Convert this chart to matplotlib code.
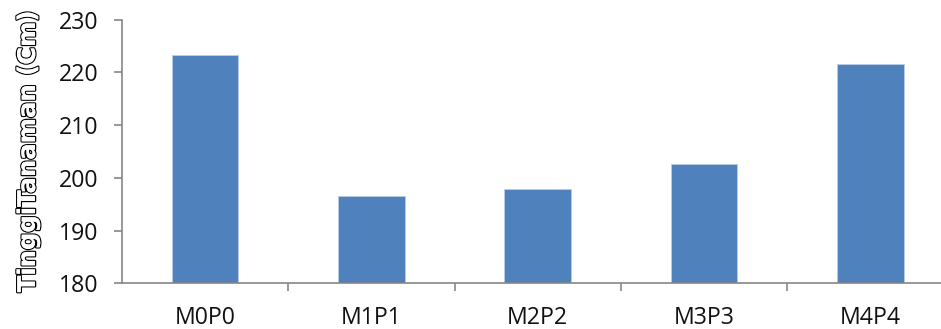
import matplotlib
matplotlib.use("Agg")
import matplotlib.pyplot as plt
import matplotlib.patheffects as pe
import numpy as np

categories = ["M0P0", "M1P1", "M2P2", "M3P3", "M4P4"]
values = [223.3, 196.6, 197.8, 202.6, 221.6]
yticks = [180, 190, 200, 210, 220, 230]

fig = plt.figure(figsize=(9.41, 3.29), dpi=100)
ax = fig.add_axes([122/941, 45.7/329, 831.5/941, 263.6/329])

x = np.arange(len(categories))
ax.bar(x, [v - 180 for v in values], bottom=180, width=0.4, color="#4F81BD",
       edgecolor="#B9CDE5", linewidth=0.6)
ax.set_xlim(-0.5, len(categories) - 0.5)
ax.set_ylim(180, 230)
ax.set_yticks(yticks)
ax.set_yticklabels([str(t) for t in yticks], fontsize=16.7, family="Open Sans", color="#111111")

ax.set_xticks(x)
ax.set_xticklabels(categories, fontsize=16.7, family="Open Sans", color="#111111")
ax.tick_params(axis="x", length=0, pad=16)
ax.set_xticks(np.arange(0.5, len(categories) - 0.5, 1), minor=True)
ax.tick_params(axis="x", which="minor", length=6, width=1.2, color="#868686", direction="out")
ax.tick_params(axis="y", length=6, width=1.2, color="#868686", direction="out", pad=11)

for s in ["top", "right"]:
    ax.spines[s].set_visible(False)
for s in ["left", "bottom"]:
    ax.spines[s].set_color("#868686")
    ax.spines[s].set_linewidth(1.2)

fig.text(28/941, (329 - 152)/329, "TinggiTanaman (Cm)", rotation=90, ha="center", va="center",
         fontsize=17.5, fontweight="bold", color="white", family="DejaVu Sans",
         path_effects=[pe.withStroke(linewidth=1.8, foreground="black"), pe.Normal()])

fig.savefig("out.png", dpi=100)
